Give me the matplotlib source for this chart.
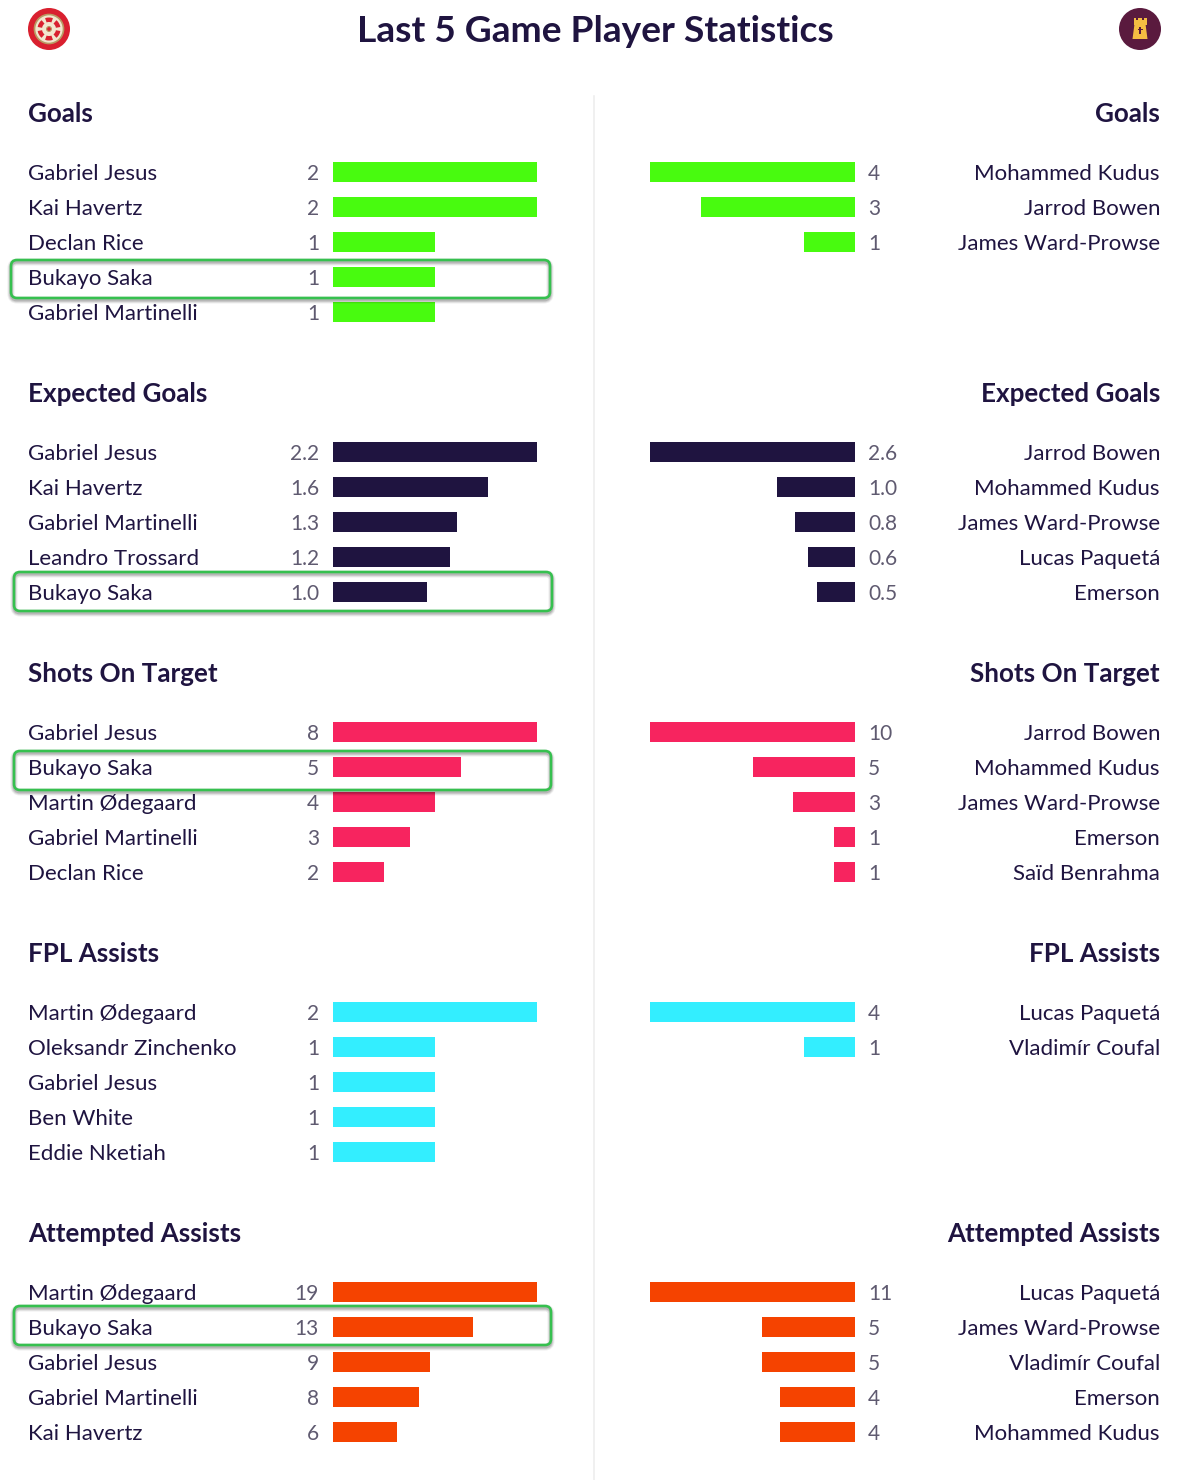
import matplotlib
matplotlib.use("Agg")
import matplotlib.pyplot as plt
from matplotlib.patches import Circle, FancyBboxPatch, Polygon, Rectangle, Wedge
from matplotlib.lines import Line2D
import numpy as np

plt.rcParams['font.family'] = ['Lato', 'DejaVu Sans']

TITLE = "Last 5 Game Player Statistics"
stats = ["Goals", "Expected Goals", "Shots On Target", "FPL Assists", "Attempted Assists"]
colors = ["#48fb0f", "#1f1440", "#f7245f", "#33eeff", "#f54300"]

left_goals_names = ["Gabriel Jesus", "Kai Havertz", "Declan Rice", "Bukayo Saka", "Gabriel Martinelli"]
left_goals_vals = [2, 2, 1, 1, 1]
left_goals_text = ["2", "2", "1", "1", "1"]
left_xg_names = ["Gabriel Jesus", "Kai Havertz", "Gabriel Martinelli", "Leandro Trossard", "Bukayo Saka"]
left_xg_vals = [2.2, 1.67, 1.34, 1.26, 1.01]
left_xg_text = ["2.2", "1.6", "1.3", "1.2", "1.0"]
left_sot_names = ["Gabriel Jesus", "Bukayo Saka", "Martin Ødegaard", "Gabriel Martinelli", "Declan Rice"]
left_sot_vals = [8, 5, 4, 3, 2]
left_sot_text = ["8", "5", "4", "3", "2"]
left_ast_names = ["Martin Ødegaard", "Oleksandr Zinchenko", "Gabriel Jesus", "Ben White", "Eddie Nketiah"]
left_ast_vals = [2, 1, 1, 1, 1]
left_ast_text = ["2", "1", "1", "1", "1"]
left_att_names = ["Martin Ødegaard", "Bukayo Saka", "Gabriel Jesus", "Gabriel Martinelli", "Kai Havertz"]
left_att_vals = [19, 13, 9, 8, 6]
left_att_text = ["19", "13", "9", "8", "6"]

right_goals_names = ["Mohammed Kudus", "Jarrod Bowen", "James Ward-Prowse"]
right_goals_vals = [4, 3, 1]
right_goals_text = ["4", "3", "1"]
right_xg_names = ["Jarrod Bowen", "Mohammed Kudus", "James Ward-Prowse", "Lucas Paquetá", "Emerson"]
right_xg_vals = [2.6, 0.99, 0.76, 0.6, 0.48]
right_xg_text = ["2.6", "1.0", "0.8", "0.6", "0.5"]
right_sot_names = ["Jarrod Bowen", "Mohammed Kudus", "James Ward-Prowse", "Emerson", "Saïd Benrahma"]
right_sot_vals = [10, 5, 3, 1, 1]
right_sot_text = ["10", "5", "3", "1", "1"]
right_ast_names = ["Lucas Paquetá", "Vladimír Coufal"]
right_ast_vals = [4, 1]
right_ast_text = ["4", "1"]
right_att_names = ["Lucas Paquetá", "James Ward-Prowse", "Vladimír Coufal", "Emerson", "Mohammed Kudus"]
right_att_vals = [11, 5, 5, 4, 4]
right_att_text = ["11", "5", "5", "4", "4"]

left = [(left_goals_names, left_goals_vals, left_goals_text),
        (left_xg_names, left_xg_vals, left_xg_text),
        (left_sot_names, left_sot_vals, left_sot_text),
        (left_ast_names, left_ast_vals, left_ast_text),
        (left_att_names, left_att_vals, left_att_text)]
right = [(right_goals_names, right_goals_vals, right_goals_text),
         (right_xg_names, right_xg_vals, right_xg_text),
         (right_sot_names, right_sot_vals, right_sot_text),
         (right_ast_names, right_ast_vals, right_ast_text),
         (right_att_names, right_att_vals, right_att_text)]

W, H = 1200, 1480
INK = "#1f1440"
GREY = "#5f5a70"
fig = plt.figure(figsize=(W / 100, H / 100), dpi=100, facecolor="white")

page = fig.add_axes([0, 0, 1, 1], zorder=0)
page.set_xlim(0, W)
page.set_ylim(H, 0)
page.axis("off")


def panel(x0, x1, top):
    ax = fig.add_axes([x0 / W, 1 - (top + 175) / H, (x1 - x0) / W, 175 / H], zorder=1)
    ax.set_ylim(4.5, -0.5)
    ax.axis("off")
    ax.patch.set_alpha(0)
    return ax


page.text(595, 41.5, TITLE, ha="center", va="baseline", fontsize=26.7, fontweight="bold", color=INK)
page.add_line(Line2D([593.5, 593.5], [96, 1480], color="#eeeeee", lw=1.2))

for i, stat in enumerate(stats):
    off = 280 * i
    top = 154.5 + off
    page.text(28, 121.5 + off, stat, ha="left", va="baseline", fontsize=18.7, fontweight="bold", color=INK)
    page.text(1160, 121.5 + off, stat, ha="right", va="baseline", fontsize=18.7, fontweight="bold", color=INK)

    names, vals, txt = left[i]
    ax = panel(333, 537, top)
    ax.set_xlim(0, max(vals))
    ax.barh(range(len(vals)), vals, height=0.57, color=colors[i], lw=0)
    for r, (n, t) in enumerate(zip(names, txt)):
        y = 179.7 + off + 35 * r
        page.text(28, y, n, ha="left", va="baseline", fontsize=16, color=INK)
        page.text(319, y, t, ha="right", va="baseline", fontsize=15, color=GREY)

    names, vals, txt = right[i]
    ax = panel(650, 855, top)
    ax.set_xlim(max(vals), 0)
    ax.barh(range(len(vals)), vals, height=0.57, color=colors[i], lw=0)
    for r, (n, t) in enumerate(zip(names, txt)):
        y = 179.7 + off + 35 * r
        page.text(1160, y, n, ha="right", va="baseline", fontsize=16, color=INK)
        page.text(868, y, t, ha="left", va="baseline", fontsize=15, color=GREY)

# green highlight boxes around Bukayo Saka
boxes = fig.add_axes([0, 0, 1, 1], zorder=2)
boxes.set_xlim(0, W)
boxes.set_ylim(H, 0)
boxes.axis("off")
boxes.patch.set_alpha(0)
for bx0, bx1, by0, by1 in [(11, 550, 260, 298), (14, 552, 572, 611), (14, 551, 751, 790), (14, 551, 1306, 1345)]:
    for k, a in zip((5, 3.5, 2), (0.07, 0.10, 0.14)):
        boxes.add_patch(FancyBboxPatch((bx0, by0 + 2), bx1 - bx0, by1 - by0,
                                       boxstyle="round,pad=0,rounding_size=6", fc="none",
                                       ec=(0, 0, 0, a), lw=k))
    boxes.add_patch(FancyBboxPatch((bx0, by0), bx1 - bx0, by1 - by0,
                                   boxstyle="round,pad=0,rounding_size=6", fc="none",
                                   ec="#36c04f", lw=1.9))

# club badges
page.add_patch(Circle((49, 29), 21, fc="#d9202f", ec="none"))
page.add_patch(Circle((49, 29), 14.5, fc="#f2e6cf", ec="#b89a62", lw=1.2))
for a in np.arange(30, 360, 60):
    page.add_patch(Wedge((49, 29), 11.5, a - 20, a + 20, width=4.5, fc="#d9202f", ec="none"))
page.add_patch(Circle((49, 29), 2.4, fc="#d9202f", ec="#b89a62", lw=0.8))

page.add_patch(Circle((1140, 29), 21, fc="#5a1a3e", ec="none"))
gold = "#f5bd42"
page.add_patch(Polygon([[1134.5, 24], [1145.5, 24], [1147.5, 39], [1132.5, 39]], fc=gold, ec="none"))
page.add_patch(Rectangle((1133.5, 17.5), 13, 7, fc=gold, ec="none"))
for cx in (1136.4, 1141.6):
    page.add_patch(Rectangle((cx, 17), 2, 2.6, fc="#5a1a3e", ec="none"))
page.add_patch(Rectangle((1139.3, 26.5), 1.5, 7.5, fc="#5a1a3e", ec="none"))
page.add_patch(Rectangle((1137.5, 28.5), 5, 1.4, fc="#5a1a3e", ec="none"))

fig.savefig("out.png", dpi=100, facecolor="white")
